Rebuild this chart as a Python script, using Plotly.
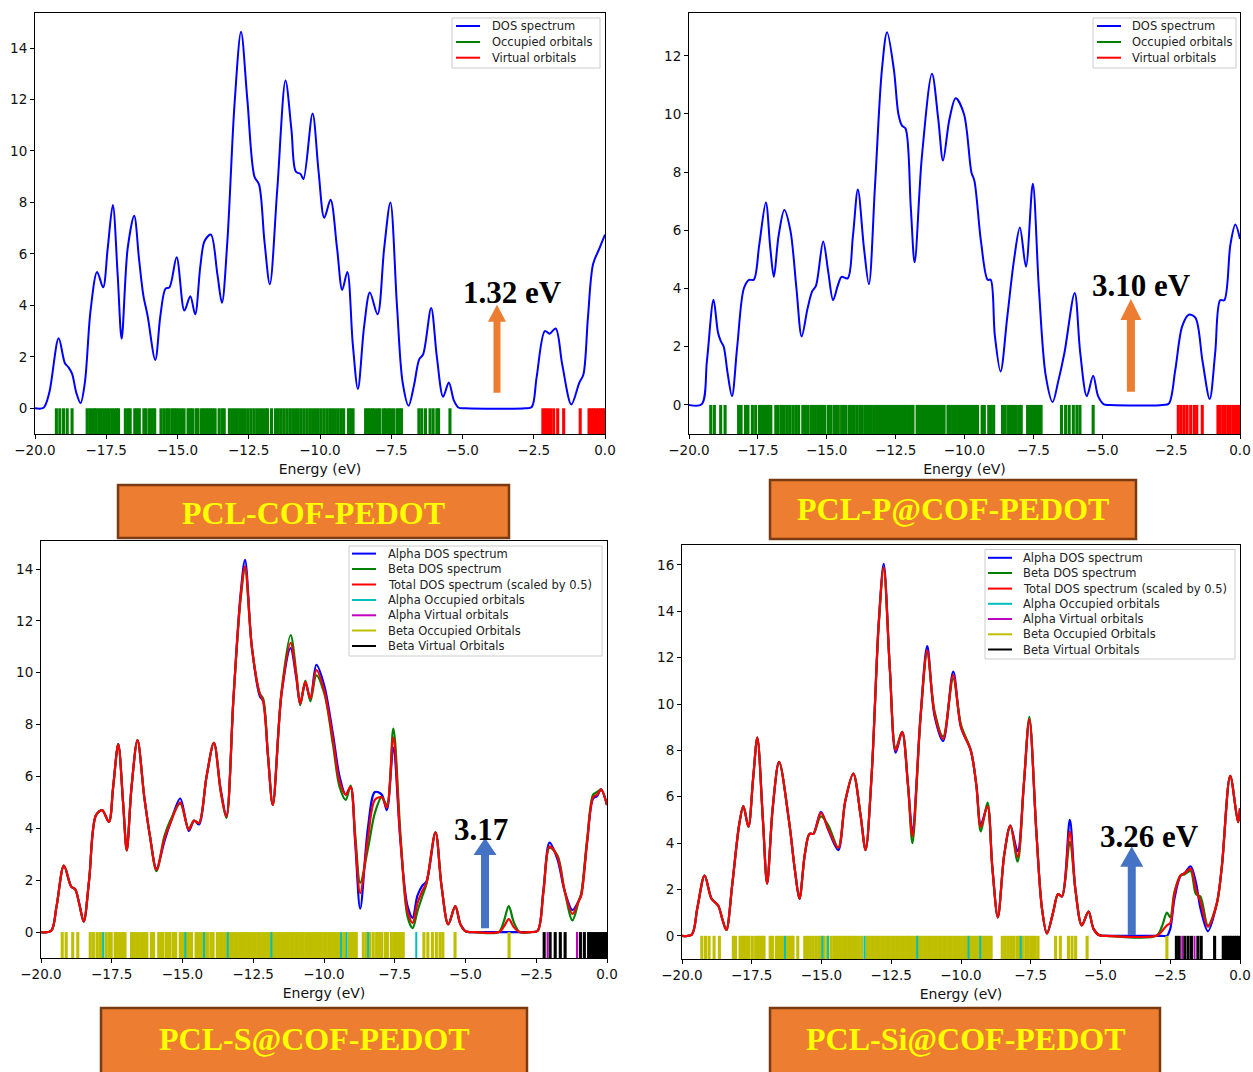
import plotly.graph_objects as go

W, H = 1253, 1072

# ---------------- PCL-COF-PEDOT (closed shell) ----------------
cof_energy = [-20.0, -19.7, -19.5, -19.17, -18.95, -18.83, -18.7, -18.55, -18.4, -18.25, -18.05, -17.82,
              -17.61, -17.45, -17.27, -17.1, -16.96, -16.75, -16.52, -16.35, -16.2, -16.05, -15.78, -15.6,
              -15.42, -15.28, -15.03, -14.76, -14.55, -14.38, -14.2, -14.05, -13.83, -13.6, -13.44, -13.25,
              -13.0, -12.77, -12.55, -12.3, -12.14, -11.95, -11.76, -11.5, -11.21, -11.0, -10.85, -10.68,
              -10.58, -10.26, -10.05, -9.85, -9.63, -9.4, -9.22, -9.04, -8.85, -8.67, -8.45, -8.25, -7.98,
              -7.75, -7.53, -7.3, -7.1, -6.89, -6.7, -6.52, -6.38, -6.1, -5.9, -5.68, -5.48, -5.3, -5.13,
              -4.9, -2.8, -2.57, -2.4, -2.11, -1.94, -1.73, -1.5, -1.18, -0.9, -0.76, -0.6, -0.42, -0.2, 0.0]
cof_dos = [0.0, 0.02, 0.6, 2.72, 1.75, 1.6, 1.35, 0.6, 0.2, 1.0, 3.8, 5.3,
           4.7, 6.2, 7.9, 5.2, 2.7, 6.2, 7.48, 5.8, 4.4, 3.6, 1.88, 3.6,
           4.65, 4.7, 5.87, 3.8, 4.35, 3.65, 5.5, 6.5, 6.75, 5.2, 4.1, 6.5,
           11.8, 14.63, 12.0, 9.0, 8.7, 6.5, 4.82, 8.5, 12.74, 10.8, 9.2, 9.1,
           8.9, 11.45, 9.2, 7.4, 8.1, 6.2, 4.6, 5.3, 2.5, 0.75, 3.2, 4.5, 3.65,
           6.2, 8.0, 4.0, 1.0, 0.1, 0.9, 1.9, 2.1, 3.9, 2.0, 0.45, 1.0, 0.3, 0.02,
           0.0, 0.0, 0.05, 1.2, 3.0, 2.9, 3.1, 1.7, 0.15, 1.0, 1.3, 3.5, 5.6, 6.2, 6.75]
cof_occupied = [-19.25, -19.13, -19.0, -18.87, -18.7,
                -18.17, -18.08, -18.0, -17.92, -17.85, -17.76, -17.67, -17.58, -17.49, -17.4, -17.31, -17.22,
                -17.14, -17.07,
                -16.83, -16.74, -16.66, -16.5, -16.42, -16.34, -16.18, -16.1, -15.98, -15.88, -15.8,
                -15.58, -15.48, -15.38, -15.3, -15.2, -15.12, -15.04, -14.96, -14.86, -14.77,
                -14.63, -14.55, -14.47, -14.35, -14.28, -14.16, -14.08, -14.0, -13.92, -13.84, -13.76, -13.68,
                -13.54, -13.44, -13.36,
                -13.18, -13.09, -13.0, -12.91, -12.82, -12.72, -12.62, -12.52, -12.42, -12.32, -12.22, -12.12,
                -12.02, -11.92, -11.84, -11.7,
                -11.56, -11.46, -11.36, -11.26, -11.16, -11.06, -10.96, -10.86, -10.76, -10.66, -10.56, -10.46,
                -10.36, -10.26, -10.16, -10.06, -9.96, -9.86, -9.76, -9.66, -9.56, -9.46, -9.36, -9.26, -9.17,
                -9.0, -8.92, -8.84,
                -8.4, -8.32, -8.24, -8.16, -8.08, -7.98, -7.9, -7.78, -7.7, -7.6, -7.52, -7.42, -7.3, -7.22, -7.14,
                -6.53, -6.43, -6.3, -6.14, -6.03, -5.9, -5.84, -5.44]
cof_virtual = [-2.18, -2.09, -2.0, -1.91, -1.8, -1.66, -1.45, -0.87,
               -0.56, -0.48, -0.4, -0.32, -0.24, -0.16, -0.08, 0.0]

# ---------------- PCL-P@COF-PEDOT (closed shell) ----------------
p_energy = [-20.0, -19.54, -19.35, -19.11, -18.95, -18.85, -18.74, -18.6, -18.44, -18.25, -18.01, -17.82,
            -17.65, -17.45, -17.21, -17.05, -16.92, -16.75, -16.54, -16.32, -16.1, -15.91, -15.7, -15.53,
            -15.39, -15.13, -14.95, -14.77, -14.6, -14.46, -14.24, -14.05, -13.87, -13.65, -13.47, -13.25,
            -13.0, -12.81, -12.56, -12.4, -12.27, -12.14, -11.95, -11.81, -11.55, -11.18, -10.95, -10.78,
            -10.55, -10.32, -10.02, -9.75, -9.64, -9.4, -9.16, -9.05, -8.9, -8.69, -8.45, -8.2, -7.99,
            -7.77, -7.52, -7.3, -7.05, -6.8, -6.6, -6.37, -6.0, -5.8, -5.56, -5.33, -5.15, -4.94, -4.7,
            -2.8, -2.58, -2.35, -2.1, -1.86, -1.62, -1.36, -1.1, -0.9, -0.72, -0.57, -0.35, -0.17, 0.0]
p_dos = [0.0, 0.02, 1.5, 3.61, 2.5, 2.2, 2.0, 1.1, 0.3, 2.0, 4.0, 4.3,
         4.3, 5.5, 6.96, 5.4, 4.4, 5.8, 6.7, 6.0, 4.0, 2.35, 3.3, 3.9,
         4.1, 5.62, 4.6, 3.6, 4.1, 4.4, 4.35, 5.8, 7.4, 5.4, 4.15, 7.5,
         11.5, 12.81, 11.5, 10.0, 9.6, 9.5, 6.8, 4.9, 8.5, 11.38, 9.8, 8.4,
         9.8, 10.54, 10.0, 8.0, 7.7, 5.6, 4.3, 4.3, 2.4, 1.15, 3.0, 5.0, 6.1,
         4.75, 7.6, 4.0, 1.0, 0.1, 0.8, 1.8, 3.85, 1.8, 0.3, 1.0, 0.3, 0.02, 0.0,
         0.0, 0.05, 1.2, 2.7, 3.1, 3.0, 1.5, 0.2, 1.8, 3.6, 3.6, 5.5, 6.2, 5.7]
p_occupied = [-19.21, -19.08, -18.85, -18.69,
              -18.2, -18.11, -17.95, -17.86, -17.7, -17.58, -17.44, -17.36, -17.28, -17.2, -17.12, -17.03,
              -16.85, -16.76, -16.64, -16.54, -16.43, -16.33, -16.22, -16.12, -16.02,
              -15.87, -15.78, -15.7, -15.58, -15.5, -15.42, -15.33, -15.25, -15.17, -15.08,
              -14.95, -14.86, -14.74, -14.66, -14.58, -14.46, -14.38, -14.3, -14.18, -14.1, -14.0, -13.9,
              -13.8, -13.72, -13.62, -13.54, -13.46, -13.38,
              -13.28, -13.19, -13.1, -13.01, -12.92, -12.83, -12.74, -12.65, -12.56, -12.47, -12.38, -12.29,
              -12.2, -12.11, -12.02, -11.94, -11.87,
              -11.72, -11.63, -11.54, -11.45, -11.36, -11.27, -11.18, -11.09, -11.0, -10.91, -10.82, -10.74,
              -10.6, -10.52, -10.43, -10.34, -10.25, -10.16, -10.07, -9.98, -9.89, -9.8, -9.71, -9.62, -9.53,
              -9.36, -9.28, -9.12, -9.03, -8.94,
              -8.62, -8.52, -8.4, -8.3, -8.22, -8.12, -8.02, -7.94,
              -7.71, -7.62, -7.54, -7.46, -7.38, -7.3, -7.22,
              -6.48, -6.33, -6.2, -6.05, -5.92, -5.81, -5.33]
p_virtual = [-2.24, -2.14, -2.03, -1.92, -1.79, -1.66, -1.57, -1.37,
             -0.8, -0.72, -0.62, -0.54, -0.44, -0.36, -0.26, -0.18, -0.1, -0.02]

# ---------------- PCL-S@COF-PEDOT (open shell) ----------------
s_energy = [-20.0, -19.64, -19.45, -19.19, -18.93, -18.79, -18.65, -18.49, -18.3, -18.06, -17.84, -17.6,
            -17.45, -17.27, -17.1, -16.97, -16.8, -16.59, -16.35, -16.15, -15.92, -15.64, -15.43, -15.08,
            -14.78, -14.59, -14.42, -14.15, -13.89, -13.65, -13.45, -13.2, -12.95, -12.79, -12.55, -12.27,
            -12.15, -11.98, -11.81, -11.5, -11.18, -10.98, -10.84, -10.66, -10.48, -10.27, -9.99, -9.68,
            -9.45, -9.23, -9.06, -8.9, -8.72, -8.45, -8.2, -7.96, -7.78, -7.55, -7.3, -7.05, -6.87, -6.7,
            -6.52, -6.38, -6.06, -5.85, -5.61, -5.36, -5.18, -4.98, -4.7, -3.82, -3.65, -3.47, -3.3, -3.09,
            -2.7, -2.45, -2.25, -2.03, -1.75, -1.5, -1.22, -1.0, -0.91, -0.7, -0.49, -0.35, -0.21, 0.0]
s_alpha = [0.0, 0.05, 1.0, 2.56, 1.75, 1.65, 1.1, 0.4, 2.0, 4.5, 4.7, 4.25,
           5.6, 7.25, 5.0, 3.15, 5.6, 7.4, 5.2, 3.7, 2.45, 3.5, 4.2, 5.15,
           3.9, 4.3, 4.15, 6.0, 7.3, 5.5, 4.5, 9.0, 13.0, 14.35, 11.0, 9.1,
           8.9, 6.8, 4.9, 9.2, 10.95, 9.8, 8.8, 9.6, 9.0, 10.3, 9.5, 7.6,
           6.0, 5.3, 5.6, 3.5, 0.9, 4.0, 5.4, 5.3, 4.7, 7.1, 3.5, 1.0, 0.55, 1.4,
           1.8, 1.95, 3.85, 1.8, 0.3, 1.0, 0.3, 0.02, 0.0, 0.0, 0.0, 0.0, 0.0, 0.0,
           0.0, 0.05, 1.6, 3.45, 2.8, 1.6, 0.85, 1.2, 1.45, 3.5, 5.15, 5.25, 5.5, 4.9]
s_beta = [0.0, 0.05, 1.0, 2.56, 1.75, 1.65, 1.1, 0.4, 2.0, 4.5, 4.7, 4.25,
          5.6, 7.25, 5.0, 3.15, 5.6, 7.4, 5.2, 3.7, 2.35, 3.7, 4.3, 4.95,
          4.0, 4.3, 4.2, 6.0, 7.3, 5.4, 4.4, 9.0, 12.8, 14.0, 11.0, 9.2,
          9.0, 6.8, 4.9, 9.3, 11.45, 10.0, 8.75, 9.7, 8.9, 9.9, 9.2, 7.2,
          5.6, 5.1, 5.65, 3.8, 1.9, 3.2, 4.6, 5.2, 4.9, 7.85, 3.8, 0.6, 0.15, 0.8,
          1.4, 1.85, 3.85, 1.8, 0.3, 1.0, 0.3, 0.02, 0.0, 0.0, 0.4, 1.0, 0.4, 0.0,
          0.0, 0.05, 1.5, 3.25, 2.95, 1.6, 0.45, 1.2, 1.5, 3.6, 5.3, 5.4, 5.5, 4.9]
s_total = [0.0, 0.05, 1.0, 2.56, 1.75, 1.65, 1.1, 0.4, 2.0, 4.5, 4.7, 4.25,
           5.6, 7.25, 5.0, 3.15, 5.6, 7.4, 5.2, 3.7, 2.4, 3.6, 4.2, 5.0,
           3.95, 4.3, 4.2, 6.0, 7.3, 5.45, 4.45, 9.0, 12.9, 14.1, 11.0, 9.2,
           8.9, 6.8, 4.9, 9.2, 11.15, 9.9, 8.8, 9.65, 9.0, 10.1, 9.3, 7.4,
           5.8, 5.3, 5.6, 3.6, 1.5, 3.6, 5.1, 5.2, 4.8, 7.5, 3.6, 0.8, 0.35, 1.1,
           1.6, 1.9, 3.85, 1.8, 0.3, 1.0, 0.3, 0.02, 0.0, 0.0, 0.2, 0.5, 0.2, 0.0,
           0.0, 0.05, 1.5, 3.3, 2.9, 1.6, 0.7, 1.2, 1.4, 3.5, 5.2, 5.3, 5.5, 4.9]
s_alpha_occ = [-17.8, -14.9, -14.24, -13.4, -11.86, -9.4, -9.2, -8.44, -6.74]
s_alpha_virt = [-2.1, -1.06]
s_beta_occ = [-19.25, -19.11, -18.88, -18.7,
              -18.26, -18.15, -18.02, -17.92, -17.84, -17.7, -17.6, -17.52, -17.38, -17.3, -17.2, -17.12, -17.03,
              -16.8, -16.71, -16.62, -16.53, -16.44, -16.35, -16.26, -16.1, -16.02, -15.84, -15.76, -15.7,
              -15.58, -15.5, -15.44, -15.32, -15.24, -15.08, -15.0, -14.92, -14.85,
              -14.76, -14.68, -14.52, -14.44, -14.36, -14.28, -14.2, -14.12, -14.0, -13.92, -13.77, -13.68,
              -13.6, -13.51, -13.42, -13.33, -13.24, -13.15, -13.06, -12.97, -12.88, -12.79, -12.7, -12.61,
              -12.52, -12.43, -12.34, -12.25, -12.16, -12.07, -11.98, -11.9, -11.82,
              -11.72, -11.63, -11.54, -11.45, -11.36, -11.27, -11.18, -11.09, -11.0, -10.91, -10.82, -10.73,
              -10.64, -10.55, -10.46, -10.37, -10.28, -10.19, -10.1, -10.01, -9.92, -9.83, -9.74, -9.65, -9.56,
              -9.47, -9.32, -9.24, -9.1, -9.02, -8.94, -8.86,
              -8.61, -8.5, -8.38, -8.26, -8.14, -8.05, -7.97, -7.84, -7.76, -7.62, -7.52, -7.44, -7.36, -7.28, -7.2,
              -6.47, -6.33, -6.17, -6.03, -5.9, -5.8, -5.37, -3.46]
s_beta_virt = [-2.22, -2.01, -1.83, -1.65, -1.48, -0.94, -0.8,
               -0.65, -0.57, -0.49, -0.41, -0.33, -0.25, -0.17, -0.09, -0.01]

# ---------------- PCL-Si@COF-PEDOT (open shell) ----------------
si_energy = [-20.0, -19.65, -19.45, -19.19, -18.94, -18.7, -18.55, -18.41, -18.2, -17.95, -17.8, -17.62,
             -17.45, -17.3, -17.1, -16.95, -16.75, -16.52, -16.17, -15.95, -15.79, -15.6, -15.43, -15.29,
             -15.02, -14.75, -14.4, -14.15, -13.86, -13.6, -13.42, -13.2, -12.95, -12.77, -12.55, -12.34,
             -12.11, -11.9, -11.74, -11.45, -11.21, -10.95, -10.64, -10.28, -10.0, -9.65, -9.45, -9.29,
             -9.05, -8.88, -8.68, -8.45, -8.23, -7.97, -7.75, -7.55, -7.3, -7.1, -6.92, -6.7, -6.52, -6.38,
             -6.1, -5.9, -5.67, -5.43, -5.25, -5.04, -4.8, -3.0, -2.8, -2.62, -2.5, -2.35, -2.13, -1.99,
             -1.77, -1.58, -1.42, -1.15, -0.83, -0.65, -0.35, -0.07, 0.0]
si_alpha = [0.0, 0.05, 1.2, 2.6, 1.6, 1.3, 0.7, 0.25, 2.2, 4.8, 5.6, 4.7,
            6.8, 8.55, 5.0, 2.25, 5.5, 7.5, 5.0, 2.8, 1.6, 3.5, 4.4, 4.4,
            5.35, 4.55, 3.7, 5.8, 7.0, 5.2, 3.7, 7.0, 13.5, 16.05, 11.5, 7.9,
            8.8, 6.5, 4.5, 9.5, 12.5, 9.5, 8.4, 11.4, 9.0, 8.0, 6.5, 4.8,
            5.6, 3.0, 0.8, 3.5, 4.75, 3.65, 6.5, 9.3, 4.5, 1.2, 0.1, 1.0, 1.8, 1.7,
            5.0, 2.0, 0.45, 1.05, 0.3, 0.02, 0.0, 0.0, 0.0, 0.0, 0.3, 1.6, 2.6, 2.7,
            3.0, 2.3, 1.2, 0.2, 1.4, 3.0, 6.9, 4.9, 5.5]
si_beta = [0.0, 0.05, 1.2, 2.6, 1.6, 1.3, 0.7, 0.25, 2.2, 4.8, 5.6, 4.7,
           6.8, 8.55, 5.0, 2.25, 5.5, 7.5, 5.0, 2.8, 1.6, 3.5, 4.4, 4.4,
           5.15, 4.75, 3.8, 5.8, 7.0, 5.2, 3.7, 7.0, 13.4, 15.85, 11.5, 8.1,
           8.8, 6.5, 4.0, 9.4, 12.2, 9.7, 8.6, 11.1, 9.1, 8.0, 6.5, 4.5,
           5.75, 3.0, 0.8, 3.5, 4.75, 3.2, 6.5, 9.45, 4.5, 1.2, 0.1, 1.0, 1.8, 1.7,
           4.05, 2.0, 0.45, 1.05, 0.3, 0.02, 0.0, 0.0, 0.4, 1.0, 0.8, 1.9, 2.6, 2.65,
           2.8, 1.8, 1.7, 0.45, 1.4, 3.0, 6.9, 4.9, 5.5]
si_total = [0.0, 0.05, 1.2, 2.6, 1.6, 1.3, 0.7, 0.25, 2.2, 4.8, 5.6, 4.7,
            6.8, 8.55, 5.0, 2.25, 5.5, 7.5, 5.0, 2.8, 1.6, 3.5, 4.4, 4.4,
            5.3, 4.6, 3.8, 5.8, 7.0, 5.2, 3.7, 7.0, 13.45, 15.9, 11.5, 8.0,
            8.8, 6.5, 4.3, 9.45, 12.3, 9.6, 8.5, 11.25, 9.0, 8.0, 6.5, 4.7,
            5.6, 3.0, 0.8, 3.5, 4.75, 3.4, 6.5, 9.35, 4.5, 1.2, 0.1, 1.0, 1.8, 1.7,
            4.5, 2.0, 0.45, 1.05, 0.3, 0.02, 0.0, 0.0, 0.2, 0.45, 0.55, 1.8, 2.6, 2.7,
            2.9, 2.0, 1.5, 0.4, 1.4, 3.0, 6.9, 4.9, 5.5]
si_alpha_occ = [-16.31, -14.97, -14.77, -13.46, -11.57, -9.73, -9.31, -7.86]
si_alpha_virt = [-2.07, -1.63]
si_beta_occ = [-19.29, -19.16, -19.03, -18.85, -18.66,
               -18.16, -18.08, -17.92, -17.84, -17.76, -17.68, -17.6, -17.48, -17.36, -17.28, -17.2, -17.12, -17.06,
               -16.84, -16.76, -16.62, -16.54, -16.46, -16.38, -16.24, -16.16, -16.08, -16.02,
               -15.85,
               -15.6, -15.5, -15.4, -15.3, -15.2, -15.1, -15.02, -14.9, -14.78, -14.66, -14.56, -14.46,
               -14.38, -14.29, -14.2, -14.11, -14.02, -13.93, -13.84, -13.75, -13.66, -13.56,
               -13.38, -13.29, -13.2, -13.11, -13.02, -12.93, -12.84, -12.75, -12.66, -12.57, -12.48, -12.39,
               -12.3, -12.21, -12.12, -12.03, -11.94, -11.88,
               -11.79, -11.7, -11.61, -11.52, -11.43, -11.34, -11.25, -11.16, -11.07, -10.98, -10.89, -10.8,
               -10.71, -10.62, -10.53, -10.44, -10.35, -10.26, -10.17, -10.08, -9.99, -9.9, -9.81, -9.72,
               -9.63, -9.54, -9.45, -9.36, -9.27, -9.18, -9.09, -9.0, -8.92,
               -8.52, -8.42, -8.32, -8.22, -8.12, -8.0, -7.9, -7.8, -7.68, -7.6, -7.5, -7.42, -7.34, -7.24,
               -6.61, -6.44, -6.15, -6.02, -5.89, -5.48, -2.62]
si_beta_virt = [-2.28, -2.18, -1.98, -1.86, -1.74, -1.51, -1.39, -0.91,
                -0.6, -0.52, -0.44, -0.36, -0.28, -0.2, -0.12, -0.04]

x_tick_values = [-20.0, -17.5, -15.0, -12.5, -10.0, -7.5, -5.0, -2.5, 0.0]

structure_names = ["PCL-COF-PEDOT", "PCL-P@COF-PEDOT", "PCL-S@COF-PEDOT", "PCL-Si@COF-PEDOT"]
gap_labels = ["1.32 eV", "3.10 eV", "3.17", "3.26 eV"]

BLUE, GREEN, RED = "#0000ff", "#008000", "#ff0000"
CYAN, MAGENTA, OLIVE, BLACK = "#00bfbf", "#bf00bf", "#bfbf00", "#000000"
ORANGE, ARROW_BLUE = "#ed7d31", "#4472c4"
TICK_FONT = "DejaVu Sans"
SERIF = "Liberation Serif"


def fx(px):
    return px / W


def fy(py):
    return 1 - py / H


def sticks(levels):
    """Orbital energies as vertical bars from -1 to 0 (one segment per level)."""
    xs, ys = [], []
    for e in levels:
        xs += [e, e, None]
        ys += [-1, 0, None]
    return xs, ys


# panel frames in pixels, axis ranges, legend frames and annotation placement
panels = [
    dict(ax="", box=(35, 605, 13, 434), yr=[-1, 15.36],
         legend=(452, 600, 18, 68, 456, 490, [26, 42, 57.7]),
         gap=(-3.26, 4.48), arrow=dict(x=-3.79, y0=0.6, y1=4.02, head=0.66, shaft=7, hw=18, color=ORANGE),
         title=(118, 509, 485, 538, 313, 513)),
    dict(ax="2", box=(689, 1240, 13, 434), yr=[-1, 13.47],
         legend=(1093, 1236, 18, 68, 1097, 1130, [26, 42, 57.7]),
         gap=(-3.57, 4.12), arrow=dict(x=-3.96, y0=0.45, y1=3.64, head=0.72, shaft=8, hw=21, color=ORANGE),
         title=(770, 1136, 480, 539, 953, 509)),
    dict(ax="3", box=(41, 607, 541, 958), yr=[-1, 15.08],
         legend=(349, 602, 546, 656, 352, 386, [553.6, 569, 584.5, 600, 615.3, 630.5, 646]),
         gap=(-4.47, 3.94), arrow=dict(x=-4.31, y0=0.15, y1=3.63, head=0.66, shaft=8, hw=23, color=ARROW_BLUE),
         title=(101, 527, 1008, 1075, 314, 1039)),
    dict(ax="4", box=(682, 1240, 545, 959), yr=[-1, 16.86],
         legend=(985, 1235, 549.5, 659, 988, 1021, [557.8, 573, 588.6, 603.8, 619, 634.3, 649.5]),
         gap=(-3.24, 4.28), arrow=dict(x=-3.88, y0=0.04, y1=3.85, head=0.87, shaft=8, hw=23, color=ARROW_BLUE),
         title=(770, 1160, 1008, 1075, 966, 1039)),
]

# series per panel: (name, color, kind, x, y-or-levels, width)
series = [
    [("DOS spectrum", BLUE, "curve", cof_energy, cof_dos, 2.0),
     ("Occupied orbitals", GREEN, "sticks", cof_occupied, None, 3.1),
     ("Virtual orbitals", RED, "sticks", cof_virtual, None, 3.1)],
    [("DOS spectrum", BLUE, "curve", p_energy, p_dos, 2.0),
     ("Occupied orbitals", GREEN, "sticks", p_occupied, None, 3.1),
     ("Virtual orbitals", RED, "sticks", p_virtual, None, 3.1)],
    [("Alpha DOS spectrum", BLUE, "curve", s_energy, s_alpha, 2.2),
     ("Beta DOS spectrum", GREEN, "curve", s_energy, s_beta, 2.2),
     ("Total DOS spectrum (scaled by 0.5)", RED, "curve", s_energy, s_total, 2.2),
     ("Alpha Occupied orbitals", CYAN, "sticks", s_alpha_occ, None, 2.0),
     ("Alpha Virtual orbitals", MAGENTA, "sticks", s_alpha_virt, None, 2.0),
     ("Beta Occupied Orbitals", OLIVE, "sticks", s_beta_occ, None, 3.1),
     ("Beta Virtual Orbitals", BLACK, "sticks", s_beta_virt, None, 3.1)],
    [("Alpha DOS spectrum", BLUE, "curve", si_energy, si_alpha, 2.2),
     ("Beta DOS spectrum", GREEN, "curve", si_energy, si_beta, 2.2),
     ("Total DOS spectrum (scaled by 0.5)", RED, "curve", si_energy, si_total, 2.2),
     ("Alpha Occupied orbitals", CYAN, "sticks", si_alpha_occ, None, 2.0),
     ("Alpha Virtual orbitals", MAGENTA, "sticks", si_alpha_virt, None, 2.0),
     ("Beta Occupied Orbitals", OLIVE, "sticks", si_beta_occ, None, 3.1),
     ("Beta Virtual Orbitals", BLACK, "sticks", si_beta_virt, None, 3.1)],
]

fig = go.Figure()
layout = dict(width=W, height=H, margin=dict(l=0, r=0, t=0, b=0),
              paper_bgcolor="white", plot_bgcolor="white", showlegend=False,
              font=dict(family=TICK_FONT, color="#111111"))
shapes, annotations = [], []

for p, ser in zip(panels, series):
    xa, ya = "x" + p["ax"], "y" + p["ax"]
    x0, x1, y0, y1 = p["box"]

    # curves first, then orbital bars; open-shell: beta bars under the alpha ones
    curves = [s for s in ser if s[2] == "curve"]
    bars = [s for s in ser if s[2] == "sticks"]
    if len(bars) == 4:
        bars = [bars[2], bars[3], bars[0], bars[1]]
    for name, color, kind, xs, ys, lw in curves:
        fig.add_trace(go.Scatter(x=xs, y=ys, mode="lines", name=name, xaxis=xa, yaxis=ya,
                                 line=dict(color=color, width=lw, shape="spline", smoothing=0.9)))
    for name, color, kind, xs, _, lw in bars:
        sx, sy = sticks(xs)
        fig.add_trace(go.Scatter(x=sx, y=sy, mode="lines", name=name, xaxis=xa, yaxis=ya,
                                 line=dict(color=color, width=lw), connectgaps=False))

    axis_common = dict(showline=True, mirror=True, linecolor="black", linewidth=1,
                       ticks="outside", ticklen=4, tickwidth=1, tickcolor="black",
                       showgrid=False, zeroline=False, automargin=False, ticklabeloverflow="allow",
                       tickfont=dict(family=TICK_FONT, size=13.5, color="#111111"))
    layout["xaxis" + p["ax"]] = dict(axis_common, domain=[fx(x0), fx(x1)], range=[-20, 0], anchor=ya,
                                     tickvals=x_tick_values, tickformat=".1f",
                                     title=dict(text="Energy (eV)", standoff=6,
                                                font=dict(family=TICK_FONT, size=14, color="#111111")))
    layout["yaxis" + p["ax"]] = dict(axis_common, domain=[fy(y1), fy(y0)], range=p["yr"], anchor=xa,
                                     tick0=0, dtick=2, tickformat="d")

    # legend frame with line samples and labels
    lx0, lx1, ly0, ly1, sx0, tx, rows = p["legend"]
    shapes.append(dict(type="rect", xref="paper", yref="paper", x0=fx(lx0), x1=fx(lx1), y0=fy(ly1), y1=fy(ly0),
                       line=dict(color="#cccccc", width=1), fillcolor="rgba(255,255,255,0.85)", layer="above"))
    for (name, color, kind, *_), ry in zip(ser, rows):
        shapes.append(dict(type="line", xref="paper", yref="paper", x0=fx(sx0), x1=fx(sx0 + 24),
                           y0=fy(ry), y1=fy(ry), line=dict(color=color, width=2), layer="above"))
        annotations.append(dict(xref="paper", yref="paper", x=fx(tx), y=fy(ry), text=name, showarrow=False,
                                xanchor="left", yanchor="middle",
                                font=dict(family=TICK_FONT, size=11.5, color="#222222")))

    # band-gap arrow (pixel width, data height)
    a = p["arrow"]
    s, hw, yh = a["shaft"] / 2, a["hw"] / 2, a["y1"] - a["head"]
    path = (f"M{-s},{a['y0']} L{s},{a['y0']} L{s},{yh} L{hw},{yh} L0,{a['y1']} "
            f"L{-hw},{yh} L{-s},{yh} Z")
    shapes.append(dict(type="path", xref=xa, yref=ya, xsizemode="pixel", xanchor=a["x"], path=path,
                       fillcolor=a["color"], line=dict(width=0), layer="above"))

    # title plate under each panel
    bx0, bx1, by0, by1, cx, cy = p["title"]
    shapes.append(dict(type="rect", xref="paper", yref="paper", x0=fx(bx0), x1=fx(bx1), y0=fy(by1), y1=fy(by0),
                       fillcolor=ORANGE, line=dict(color="#7a3a12", width=2.5), layer="above"))

for p, name, gap in zip(panels, structure_names, gap_labels):
    xa, ya = "x" + p["ax"], "y" + p["ax"]
    gx, gy = p["gap"]
    annotations.append(dict(xref=xa, yref=ya, x=gx, y=gy, text=gap, showarrow=False,
                            xanchor="center", yanchor="middle",
                            font=dict(family=SERIF, size=31, color="black", weight="bold")))
    bx0, bx1, by0, by1, cx, cy = p["title"]
    annotations.append(dict(xref="paper", yref="paper", x=fx(cx), y=fy(cy), text=name, showarrow=False,
                            xanchor="center", yanchor="middle",
                            font=dict(family=SERIF, size=32, color="#ffff00", weight="bold")))

layout["shapes"] = shapes
layout["annotations"] = annotations
fig.update_layout(**layout)
fig.write_html("out.html")
